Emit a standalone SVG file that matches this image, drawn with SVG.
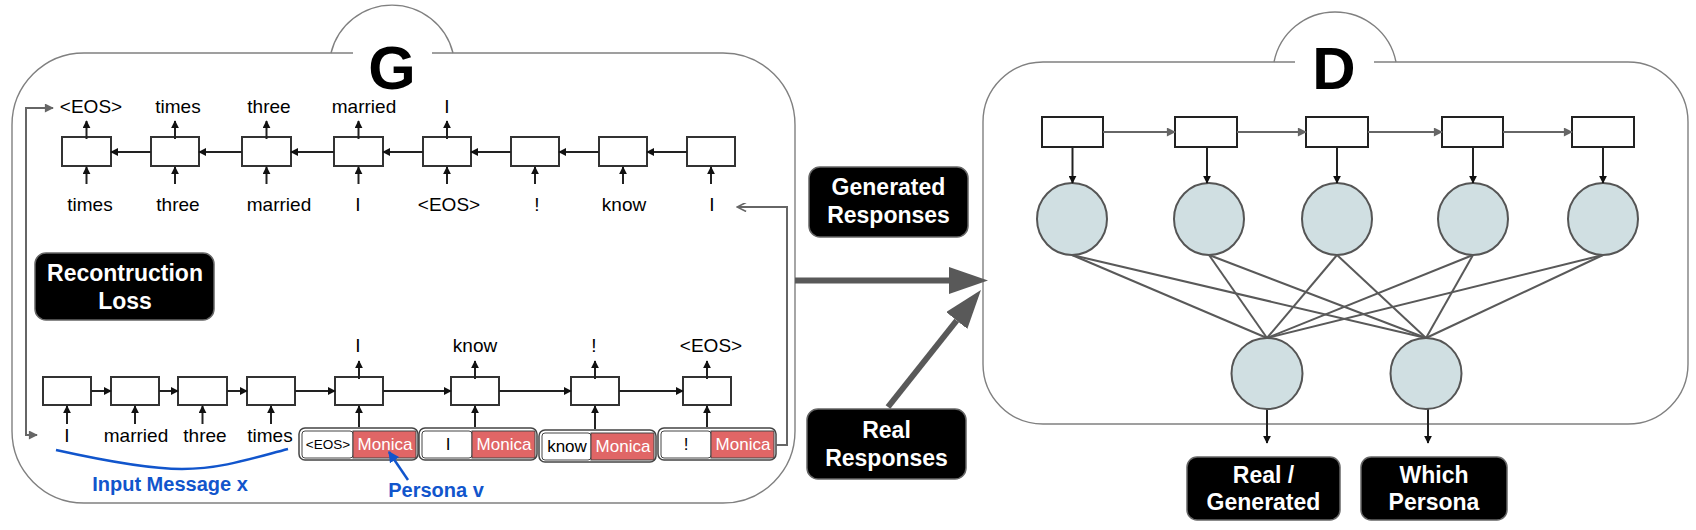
<svg xmlns="http://www.w3.org/2000/svg" width="1696" height="530" viewBox="0 0 1696 530">
<style>
text{font-family:"Liberation Sans",Arial,sans-serif;}
.lbl{font-size:19px;fill:#000;text-anchor:middle;}
.panel{fill:none;stroke:#808080;stroke-width:1.4;}
.cell{fill:#fff;stroke:#333;stroke-width:2;}
.dcell{fill:#fff;stroke:#222;stroke-width:2;}
.blk{fill:#000;stroke:#666;stroke-width:1.5;}
.wt{font-size:23px;font-weight:bold;fill:#fff;text-anchor:middle;}
.title{font-weight:bold;fill:#000;text-anchor:middle;}
.arr{stroke:#222;stroke-width:2;fill:none;marker-end:url(#ah);}
.garr{stroke:#666;stroke-width:2.2;fill:none;marker-end:url(#ahg);}
.fb{stroke:#666;stroke-width:2;fill:none;}
.node{fill:#d0dfe2;stroke:#555;stroke-width:2;}
.conn{stroke:#595959;stroke-width:2;fill:none;}
.big{stroke:#595959;stroke-width:6;fill:none;marker-end:url(#bigh);}
.blue{fill:#1155cc;font-weight:bold;font-size:20px;text-anchor:middle;}
.pout{fill:#fff;stroke:#444;stroke-width:1.5;}
.pin{fill:#fff;stroke:#444;stroke-width:1;}
.red{fill:#e06666;stroke:#444;stroke-width:1;}
.mon{font-size:17px;fill:#fff;text-anchor:middle;}
.tok{font-size:17px;fill:#000;text-anchor:middle;}
.tok.sm{font-size:13.5px;}
</style>
<defs>
<marker id="ah" viewBox="0 0 10 10" refX="9" refY="5" markerWidth="8" markerHeight="8" markerUnits="userSpaceOnUse" orient="auto"><path d="M0,0 L10,5 L0,10 z" fill="#111"/></marker>
<marker id="ahg" viewBox="0 0 10 10" refX="9" refY="5" markerWidth="10" markerHeight="9" markerUnits="userSpaceOnUse" orient="auto-start-reverse"><path d="M0,0 L10,5 L0,10 z" fill="#666"/></marker>
<marker id="aho" viewBox="0 0 10 10" refX="9" refY="5" markerWidth="11" markerHeight="9" markerUnits="userSpaceOnUse" orient="auto"><path d="M0,0 L10,5 L0,10" fill="none" stroke="#666" stroke-width="1.8"/></marker>
<marker id="ahb" viewBox="0 0 10 10" refX="9" refY="5" markerWidth="11" markerHeight="11" markerUnits="userSpaceOnUse" orient="auto"><path d="M0,0 L10,5 L0,10 z" fill="#1155cc"/></marker>
<marker id="bigh" viewBox="0 0 39 27" refX="0" refY="13.5" markerWidth="39" markerHeight="27" markerUnits="userSpaceOnUse" orient="auto"><path d="M0,0 L39,13.5 L0,27 z" fill="#595959"/></marker>
</defs>

<!-- G panel -->
<g id="panel-G">
<path class="panel" d="M353 53 H84 A72 72 0 0 0 12 125 V431 A72 72 0 0 0 84 503 H723 A72 72 0 0 0 795 431 V125 A72 72 0 0 0 723 53 H432"/>
<path class="panel" d="M331 53 A62.8 62.8 0 0 1 453 53"/>
<text class="title" x="392" y="89" font-size="61">G</text>
</g>

<!-- D panel -->
<g id="panel-D">
<path class="panel" d="M1295 62 H1043 A60 60 0 0 0 983 122 V364 A60 60 0 0 0 1043 424 H1628 A60 60 0 0 0 1688 364 V122 A60 60 0 0 0 1628 62 H1374"/>
<path class="panel" d="M1274 62 A62.2 62.2 0 0 1 1396 62"/>
<text class="title" x="1334" y="89" font-size="60">D</text>
</g>

<!-- Decoder row (top of G) -->
<g id="dec-cells">
<rect class="cell" x="62" y="137" width="49" height="29"/>
<rect class="cell" x="151" y="137" width="48" height="29"/>
<rect class="cell" x="242" y="137" width="49" height="29"/>
<rect class="cell" x="334" y="137" width="49" height="29"/>
<rect class="cell" x="423" y="137" width="48" height="29"/>
<rect class="cell" x="511" y="137" width="48" height="29"/>
<rect class="cell" x="599" y="137" width="48" height="29"/>
<rect class="cell" x="687" y="137" width="48" height="29"/>
</g>
<g id="dec-labels">
<text class="lbl" x="91" y="113">&lt;EOS&gt;</text>
<text class="lbl" x="178" y="113">times</text>
<text class="lbl" x="269" y="113">three</text>
<text class="lbl" x="364" y="113">married</text>
<text class="lbl" x="447" y="113">I</text>
<text class="lbl" x="90" y="211">times</text>
<text class="lbl" x="178" y="211">three</text>
<text class="lbl" x="279" y="211">married</text>
<text class="lbl" x="358" y="211">I</text>
<text class="lbl" x="449" y="211">&lt;EOS&gt;</text>
<text class="lbl" x="537" y="211">!</text>
<text class="lbl" x="624" y="211">know</text>
<text class="lbl" x="712" y="211">I</text>
</g>

<!-- Encoder row (bottom of G) -->
<g id="enc-cells">
<rect class="cell" x="43" y="377" width="48" height="28"/>
<rect class="cell" x="111" y="377" width="48" height="28"/>
<rect class="cell" x="178" y="377" width="49" height="28"/>
<rect class="cell" x="247" y="377" width="48" height="28"/>
<rect class="cell" x="335" y="377" width="48" height="28"/>
<rect class="cell" x="451" y="377" width="48" height="28"/>
<rect class="cell" x="571" y="377" width="48" height="28"/>
<rect class="cell" x="683" y="377" width="48" height="28"/>
</g>
<g id="enc-labels">
<text class="lbl" x="358" y="352">I</text>
<text class="lbl" x="475" y="352">know</text>
<text class="lbl" x="594" y="352">!</text>
<text class="lbl" x="711" y="352">&lt;EOS&gt;</text>
<text class="lbl" x="67" y="442">I</text>
<text class="lbl" x="136" y="442">married</text>
<text class="lbl" x="205" y="442">three</text>
<text class="lbl" x="270" y="442">times</text>
</g>

<!-- Persona inputs -->
<g id="persona-1">
<rect class="pout" x="299" y="428" width="119" height="32" rx="6"/>
<rect class="pin" x="302" y="431" width="51" height="27" rx="3"/>
<rect class="red" x="353" y="431" width="63" height="27"/>
<text class="tok sm" x="328" y="449">&lt;EOS&gt;</text>
<text class="mon" x="385" y="450">Monica</text>
</g>
<g id="persona-2">
<rect class="pout" x="419" y="428" width="118" height="32" rx="6"/>
<rect class="pin" x="422" y="431" width="50" height="27" rx="3"/>
<rect class="red" x="472" y="431" width="63" height="27"/>
<text class="tok" x="448" y="450">I</text>
<text class="mon" x="504" y="450">Monica</text>
</g>
<g id="persona-3">
<rect class="pout" x="539" y="430" width="117" height="32" rx="6"/>
<rect class="pin" x="542" y="433" width="49" height="27" rx="3"/>
<rect class="red" x="591" y="433" width="63" height="27"/>
<text class="tok" x="567" y="452">know</text>
<text class="mon" x="623" y="452">Monica</text>
</g>
<g id="persona-4">
<rect class="pout" x="658" y="428" width="118" height="32" rx="6"/>
<rect class="pin" x="661" y="431" width="50" height="27" rx="3"/>
<rect class="red" x="711" y="431" width="63" height="27"/>
<text class="tok" x="686" y="450">!</text>
<text class="mon" x="743" y="450">Monica</text>
</g>

<!-- Label boxes -->
<g id="recon-loss">
<rect class="blk" x="35" y="253" width="179" height="67" rx="11"/>
<text class="wt" x="125" y="281">Recontruction</text>
<text class="wt" x="125" y="309">Loss</text>
</g>
<g id="gen-resp">
<rect class="blk" x="809" y="167" width="159" height="70" rx="11"/>
<text class="wt" x="888.5" y="195">Generated</text>
<text class="wt" x="888.5" y="223">Responses</text>
</g>
<g id="real-resp">
<rect class="blk" x="807" y="409" width="159" height="70" rx="11"/>
<text class="wt" x="886.5" y="438">Real</text>
<text class="wt" x="886.5" y="466">Responses</text>
</g>
<g id="out-realgen">
<rect class="blk" x="1187" y="457" width="153" height="63" rx="10"/>
<text class="wt" x="1263.5" y="483">Real /</text>
<text class="wt" x="1263.5" y="510">Generated</text>
</g>
<g id="out-persona">
<rect class="blk" x="1361" y="457" width="146" height="63" rx="10"/>
<text class="wt" x="1434" y="483">Which</text>
<text class="wt" x="1434" y="510">Persona</text>
</g>

<!-- Annotations -->
<g id="input-message">
<path d="M56 450 C110 462 150 469 182 469 C220 469 250 459 288 449" fill="none" stroke="#1155cc" stroke-width="2.5"/>
<text class="blue" x="170" y="491">Input Message x</text>
</g>
<g id="persona-v">
<text class="blue" x="436" y="497">Persona v</text>
</g>

<!-- D cells and nodes -->
<g id="d-cells">
<rect class="dcell" x="1042" y="117" width="61" height="30"/>
<rect class="dcell" x="1175" y="117" width="62" height="30"/>
<rect class="dcell" x="1306" y="117" width="62" height="30"/>
<rect class="dcell" x="1442" y="117" width="61" height="30"/>
<rect class="dcell" x="1572" y="117" width="62" height="30"/>
</g>
<g id="d-hidden">
<ellipse class="node" cx="1072" cy="219" rx="35" ry="36"/>
<ellipse class="node" cx="1209" cy="219" rx="35" ry="36"/>
<ellipse class="node" cx="1337" cy="219" rx="35" ry="36"/>
<ellipse class="node" cx="1473" cy="219" rx="35" ry="36"/>
<ellipse class="node" cx="1603" cy="219" rx="35" ry="36"/>
</g>

<!-- Connectors -->
<g id="connectors">
<line class="arr" x1="151" y1="152" x2="111" y2="152"/>
<line class="arr" x1="242" y1="152" x2="199" y2="152"/>
<line class="arr" x1="334" y1="152" x2="291" y2="152"/>
<line class="arr" x1="423" y1="152" x2="383" y2="152"/>
<line class="arr" x1="511" y1="152" x2="471" y2="152"/>
<line class="arr" x1="599" y1="152" x2="559" y2="152"/>
<line class="arr" x1="687" y1="152" x2="647" y2="152"/>
<line class="arr" x1="86.5" y1="139" x2="86.5" y2="121"/>
<line class="arr" x1="175" y1="139" x2="175" y2="121"/>
<line class="arr" x1="266.5" y1="139" x2="266.5" y2="121"/>
<line class="arr" x1="358.5" y1="139" x2="358.5" y2="121"/>
<line class="arr" x1="447" y1="139" x2="447" y2="121"/>
<line class="arr" x1="86.5" y1="184" x2="86.5" y2="167"/>
<line class="arr" x1="175" y1="184" x2="175" y2="167"/>
<line class="arr" x1="266.5" y1="184" x2="266.5" y2="167"/>
<line class="arr" x1="358.5" y1="184" x2="358.5" y2="167"/>
<line class="arr" x1="447" y1="184" x2="447" y2="167"/>
<line class="arr" x1="535" y1="184" x2="535" y2="167"/>
<line class="arr" x1="623" y1="184" x2="623" y2="167"/>
<line class="arr" x1="711" y1="184" x2="711" y2="167"/>
<line class="arr" x1="91" y1="391" x2="111" y2="391"/>
<line class="arr" x1="159" y1="391" x2="178" y2="391"/>
<line class="arr" x1="227" y1="391" x2="247" y2="391"/>
<line class="arr" x1="295" y1="391" x2="335" y2="391"/>
<line class="arr" x1="383" y1="391" x2="451" y2="391"/>
<line class="arr" x1="499" y1="391" x2="571" y2="391"/>
<line class="arr" x1="619" y1="391" x2="683" y2="391"/>
<line class="arr" x1="359" y1="379" x2="359" y2="361"/>
<line class="arr" x1="475" y1="379" x2="475" y2="361"/>
<line class="arr" x1="595" y1="379" x2="595" y2="361"/>
<line class="arr" x1="707" y1="379" x2="707" y2="361"/>
<line class="arr" x1="67" y1="424" x2="67" y2="406"/>
<line class="arr" x1="135" y1="424" x2="135" y2="406"/>
<line class="arr" x1="202.5" y1="424" x2="202.5" y2="406"/>
<line class="arr" x1="271" y1="424" x2="271" y2="406"/>
<line class="arr" x1="359" y1="427" x2="359" y2="406"/>
<line class="arr" x1="475" y1="427" x2="475" y2="406"/>
<line class="arr" x1="595" y1="429" x2="595" y2="406"/>
<line class="arr" x1="707" y1="427" x2="707" y2="406"/>
<path class="fb" d="M37 435 H26 V108 H53" marker-start="url(#ahg)" marker-end="url(#ahg)"/>
<path class="fb" d="M776 445 H787 V207 H738" marker-end="url(#aho)"/>
<line x1="408" y1="480" x2="389" y2="452" stroke="#1155cc" stroke-width="2.5" marker-end="url(#ahb)"/>
<line class="big" x1="795" y1="280.5" x2="949" y2="280.5"/>
<line class="big" x1="888" y1="407" x2="956.7" y2="320.5"/>
<line class="garr" x1="1103" y1="132" x2="1175" y2="132"/>
<line class="garr" x1="1237" y1="132" x2="1306" y2="132"/>
<line class="garr" x1="1368" y1="132" x2="1442" y2="132"/>
<line class="garr" x1="1503" y1="132" x2="1572" y2="132"/>
<line class="arr" x1="1072.5" y1="147" x2="1072.5" y2="183"/>
<line class="arr" x1="1207" y1="147" x2="1207" y2="183"/>
<line class="arr" x1="1337" y1="147" x2="1337" y2="183"/>
<line class="arr" x1="1473" y1="147" x2="1473" y2="183"/>
<line class="arr" x1="1603" y1="147" x2="1603" y2="183"/>
<line class="conn" x1="1072" y1="255" x2="1267" y2="338"/>
<line class="conn" x1="1072" y1="255" x2="1426" y2="338"/>
<line class="conn" x1="1209" y1="255" x2="1267" y2="338"/>
<line class="conn" x1="1209" y1="255" x2="1426" y2="338"/>
<line class="conn" x1="1337" y1="255" x2="1267" y2="338"/>
<line class="conn" x1="1337" y1="255" x2="1426" y2="338"/>
<line class="conn" x1="1473" y1="255" x2="1267" y2="338"/>
<line class="conn" x1="1473" y1="255" x2="1426" y2="338"/>
<line class="conn" x1="1603" y1="255" x2="1267" y2="338"/>
<line class="conn" x1="1603" y1="255" x2="1426" y2="338"/>
<line class="arr" x1="1267" y1="409" x2="1267" y2="443"/>
<line class="arr" x1="1428" y1="409" x2="1428" y2="443"/>
</g>

<g id="d-outputs">
<ellipse class="node" cx="1267" cy="373.5" rx="35.5" ry="35.5"/>
<ellipse class="node" cx="1426" cy="373.5" rx="35.5" ry="35.5"/>
</g>
</svg>
